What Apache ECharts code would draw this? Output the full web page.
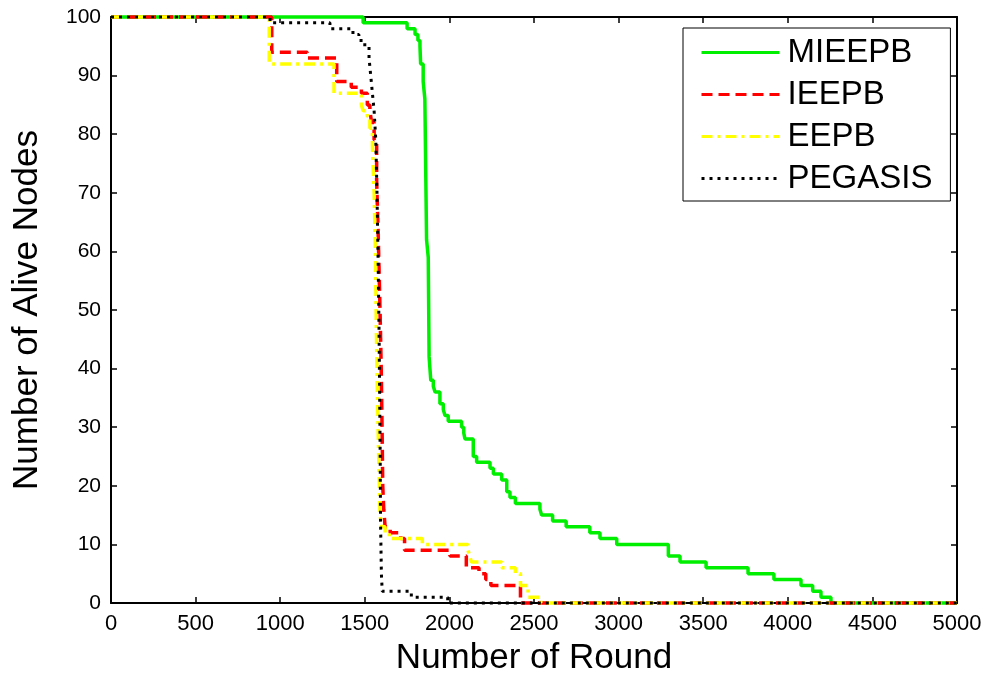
<!DOCTYPE html>
<html>
<head>
<meta charset="utf-8">
<script src="https://cdn.jsdelivr.net/npm/echarts@6/dist/echarts.min.js"></script>
<style>
  html, body { margin: 0; padding: 0; background: #fff; }
  #chart { width: 991px; height: 681px; }
</style>
</head>
<body>
<div id="chart"></div>
<script>
// rounds where each level starts, and the number of alive nodes from there on
var mieepbRounds = [0, 1490, 1750, 1797, 1814, 1826, 1830, 1845, 1855, 1865, 1875, 1880, 1885, 1890, 1905, 1915, 1944, 1964, 1974, 1993,
  2072, 2085, 2092, 2141, 2161, 2240, 2260, 2309, 2339, 2358, 2390, 2535, 2545, 2610, 2690, 2830, 2890, 2989, 3294, 3363,
  3517, 3765, 3918, 4078, 4147, 4196, 4255, 5000];
var mieepbAlive = [100, 99, 98, 97, 96, 95, 92, 89, 86, 62, 59, 42, 40, 38, 37, 36, 34, 33, 32, 31,
  30, 29, 28, 25, 24, 23, 22, 21, 19, 18, 17, 16, 15, 14, 13, 12, 11, 10, 8, 7,
  6, 5, 4, 3, 2, 1, 0, 0];

var ieepbRounds = [0, 950, 1160, 1334, 1420, 1480, 1515, 1530, 1540, 1555, 1570, 1580, 1590, 1597, 1602, 1606, 1612, 1620, 1650, 1712,
  1735, 2003, 2100, 2175, 2215, 2245, 2420, 5000];
var ieepbAlive = [100, 94, 93, 89, 88, 87, 85, 84, 82, 79, 72, 62, 50, 40, 30, 20, 16, 13, 12, 11,
  9, 8, 6, 5, 4, 3, 0, 0];

var eepbRounds = [0, 935, 1318, 1480, 1490, 1515, 1530, 1545, 1555, 1563, 1568, 1575, 1582, 1590, 1600, 1620, 1645, 1840, 2110, 2120,
  2130, 2310, 2390, 2420, 2465, 2540, 5000];
var eepbAlive = [100, 92, 87, 85, 84, 83, 81, 78, 70, 60, 47, 35, 25, 15, 13, 12, 11, 10, 9, 8,
  7, 6, 5, 3, 1, 0, 0];

var pegasisRounds = [0, 940, 1294, 1430, 1465, 1500, 1525, 1535, 1545, 1555, 1565, 1572, 1578, 1584, 1588, 1591, 1593, 1598, 1603, 1775,
  1990, 5000];
var pegasisAlive = [100, 99, 98, 97, 96, 95, 93, 90, 87, 84, 79, 70, 60, 47, 35, 25, 14, 5, 2, 1,
  0, 0];

function zip(xs, ys) {
  return xs.map(function (x, i) { return [x, ys[i]]; });
}

var font = "'Liberation Sans', Arial, sans-serif";

var myChart = echarts.init(document.getElementById('chart'));

function frameAxis(pos, extra) {
  var a = {
    type: 'value',
    position: pos,
    axisLine: { show: true, onZero: false, lineStyle: { color: '#000', width: 2 } },
    axisTick: { show: true, inside: true, length: 6, lineStyle: { color: '#000', width: 1.5 } },
    axisLabel: { show: false },
    splitLine: { show: false }
  };
  for (var k in extra) a[k] = extra[k];
  return a;
}

var option = {
  backgroundColor: '#fff',
  animation: false,
  grid: { left: 111, right: 34, top: 17, bottom: 73 },
  legend: {
    left: 683,
    top: 28,
    orient: 'vertical',
    backgroundColor: '#fff',
    borderColor: '#000',
    borderWidth: 1,
    borderRadius: 0,
    padding: [8, 18, 6, 17],
    itemWidth: 78,
    itemHeight: 16,
    itemGap: 9,
    itemStyle: { opacity: 0 },
    lineStyle: { width: 3 },
    textStyle: { fontFamily: font, fontSize: 33, color: '#000', lineHeight: 33, padding: [0, 0, 0, 3] },
    data: ['MIEEPB', 'IEEPB', 'EEPB', 'PEGASIS']
  },
  xAxis: [
    frameAxis('bottom', {
      min: 0, max: 5000, interval: 500,
      axisLabel: { show: true, fontFamily: font, fontSize: 22, color: '#000', margin: 10,
        formatter: function (v) { return String(v); } },
      name: 'Number of Round',
      nameLocation: 'middle',
      nameGap: 38,
      nameTextStyle: { fontFamily: font, fontSize: 35, color: '#000' }
    }),
    frameAxis('top', { min: 0, max: 5000, interval: 500 })
  ],
  yAxis: [
    frameAxis('left', {
      min: 0, max: 100, interval: 10,
      axisLabel: { show: true, fontFamily: font, fontSize: 21, color: '#000', margin: 10 },
      name: 'Number of Alive Nodes',
      nameLocation: 'middle',
      nameGap: 66,
      nameTextStyle: { fontFamily: font, fontSize: 35, color: '#000' }
    }),
    frameAxis('right', { min: 0, max: 100, interval: 10 })
  ],
  series: [
    {
      name: 'MIEEPB', type: 'line', step: 'end', symbol: 'none', clip: false,
      lineStyle: { color: '#00ee00', width: 3.5, type: 'solid' },
      itemStyle: { color: '#00ee00' },
      data: zip(mieepbRounds, mieepbAlive)
    },
    {
      name: 'IEEPB', type: 'line', step: 'end', symbol: 'none', clip: false,
      lineStyle: { color: '#ff0000', width: 3.5, type: [11, 6] },
      itemStyle: { color: '#ff0000' },
      data: zip(ieepbRounds, ieepbAlive)
    },
    {
      name: 'EEPB', type: 'line', step: 'end', symbol: 'none', clip: false,
      lineStyle: { color: '#ffff00', width: 3.5, type: [11, 5, 3, 5] },
      itemStyle: { color: '#ffff00' },
      data: zip(eepbRounds, eepbAlive)
    },
    {
      name: 'PEGASIS', type: 'line', step: 'end', symbol: 'none', clip: false,
      lineStyle: { color: '#000', width: 3, type: [3, 5] },
      itemStyle: { color: '#000' },
      data: zip(pegasisRounds, pegasisAlive)
    }
  ]
};

myChart.setOption(option);
</script>
</body>
</html>
